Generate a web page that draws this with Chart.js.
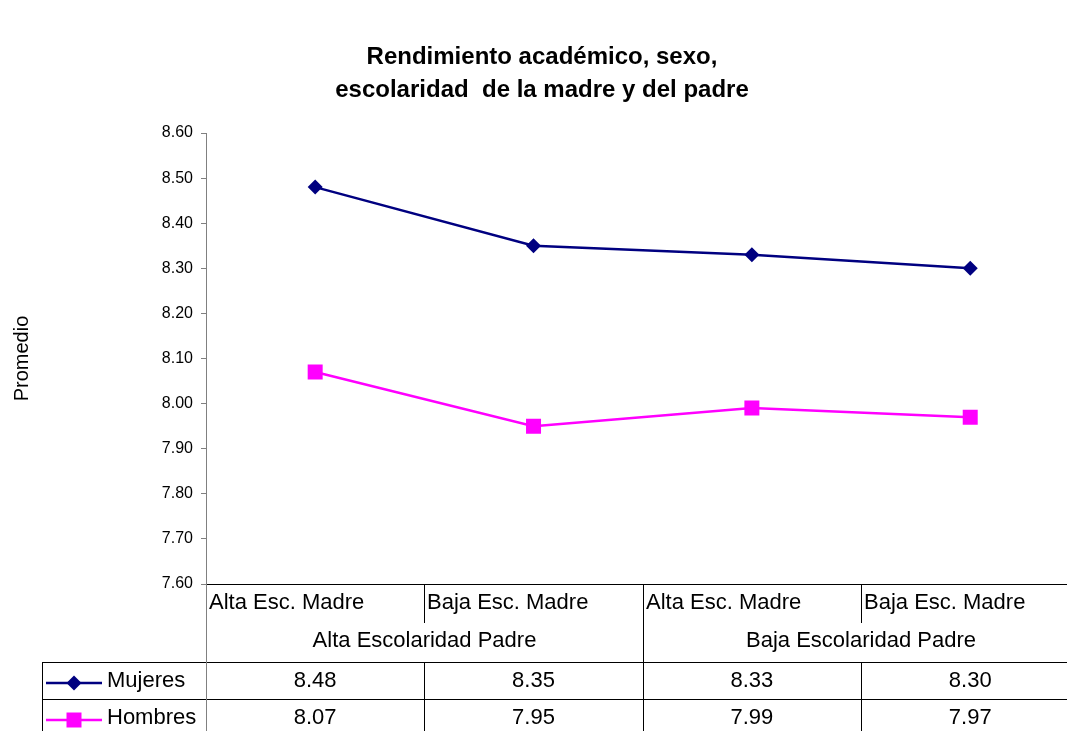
<!DOCTYPE html>
<html lang="es">
<head>
<meta charset="utf-8">
<title>Rendimiento académico</title>
<script src="https://cdn.jsdelivr.net/npm/chart.js@4/dist/chart.umd.min.js"></script>
<style>
    html, body { margin: 0; padding: 0; background: #fff; overflow: hidden; }
    #wrap { position: relative; width: 1090px; height: 731px; }
</style>
</head>
<body>
<div id="wrap"><canvas id="myChart"></canvas></div>
<script>
// Categories (madre) and their groups (padre)
const categories = ['Alta Esc. Madre', 'Baja Esc. Madre', 'Alta Esc. Madre', 'Baja Esc. Madre'];
const padreGroups = ['Alta Escolaridad Padre', 'Baja Escolaridad Padre'];

// Promedio per series
const mujeres = [8.48, 8.35, 8.33, 8.30];
const hombres = [8.07, 7.95, 7.99, 7.97];

// Y axis range
const yMin = 7.6;
const yMax = 8.6;
const yStep = 0.1;

const titleLines = ['Rendimiento académico, sexo,', 'escolaridad  de la madre y del padre'];
const FONT = 'Arial, "Liberation Sans", sans-serif';

// Draws the title and the data table under the plot
const tablePlugin = {
    id: 'dataTable',
    afterDraw(chart) {
        const ctx = chart.ctx;
        const area = chart.chartArea;
        const xs = chart.scales.x;
        const colW = (area.right - area.left) / categories.length;
        const edges = categories.map((c, i) => Math.round(xs.getPixelForValue(i) - colW / 2));
        edges.push(Math.round(area.right));

        ctx.save();
        ctx.fillStyle = '#000';

        // title
        ctx.font = 'bold 24px ' + FONT;
        ctx.textAlign = 'center';
        ctx.textBaseline = 'middle';
        ctx.fillText(titleLines[0], 542, 57);
        ctx.fillText(titleLines[1], 542, 90);

        const top = Math.round(area.bottom);
        const subBottom = 623;
        const rowTop = 662;
        const row2Top = 699;
        const bottom = chart.height;
        const tableLeft = 42;

        ctx.strokeStyle = '#000';
        ctx.lineWidth = 1;
        ctx.beginPath();
        // horizontal lines
        ctx.moveTo(edges[0], top + 0.5); ctx.lineTo(chart.width, top + 0.5);
        ctx.moveTo(tableLeft, rowTop + 0.5); ctx.lineTo(chart.width, rowTop + 0.5);
        ctx.moveTo(tableLeft, row2Top + 0.5); ctx.lineTo(chart.width, row2Top + 0.5);
        // left border of the series rows
        ctx.moveTo(tableLeft + 0.5, rowTop); ctx.lineTo(tableLeft + 0.5, bottom);
        // column lines
        edges.forEach((x, i) => {
            if (i === 0) return;
            if (i % 2 === 0) {
                ctx.moveTo(x + 0.5, top); ctx.lineTo(x + 0.5, bottom);
            } else {
                ctx.moveTo(x + 0.5, top); ctx.lineTo(x + 0.5, subBottom);
                ctx.moveTo(x + 0.5, rowTop); ctx.lineTo(x + 0.5, bottom);
            }
        });
        ctx.stroke();

        // axis line down through the table
        ctx.strokeStyle = '#808080';
        ctx.beginPath();
        ctx.moveTo(edges[0] + 0.5, top); ctx.lineTo(edges[0] + 0.5, bottom);
        ctx.stroke();

        // category labels
        ctx.font = '22px ' + FONT;
        ctx.textAlign = 'left';
        categories.forEach((c, i) => ctx.fillText(c, edges[i] + 3, 603));

        // padre groups span two columns each
        ctx.textAlign = 'center';
        padreGroups.forEach((g, i) => {
            ctx.fillText(g, (edges[i * 2] + edges[i * 2 + 2]) / 2, 641);
        });

        // series rows
        const rows = [
            { label: 'Mujeres', data: mujeres, y: 681, ds: chart.data.datasets[0] },
            { label: 'Hombres', data: hombres, y: 718, ds: chart.data.datasets[1] }
        ];
        rows.forEach(r => {
            ctx.textAlign = 'center';
            ctx.fillStyle = '#000';
            r.data.forEach((v, i) => ctx.fillText(v.toFixed(2), xs.getPixelForValue(i), r.y));

            // legend key
            ctx.strokeStyle = r.ds.borderColor;
            ctx.lineWidth = 2.5;
            ctx.beginPath();
            ctx.moveTo(46, r.y + 2); ctx.lineTo(102, r.y + 2);
            ctx.stroke();
            ctx.fillStyle = r.ds.borderColor;
            ctx.beginPath();
            if (r.ds.pointStyle === 'rectRot') {
                ctx.moveTo(74 - 7.5, r.y + 2); ctx.lineTo(74, r.y + 2 - 7.5);
                ctx.lineTo(74 + 7.5, r.y + 2); ctx.lineTo(74, r.y + 2 + 7.5);
                ctx.closePath();
            } else {
                ctx.rect(74 - 7.5, r.y + 2 - 7.5, 15, 15);
            }
            ctx.fill();

            ctx.fillStyle = '#000';
            ctx.textAlign = 'left';
            ctx.fillText(r.label, 107, r.y);
        });

        ctx.restore();
    }
};

function createChart() {
    const ctx = document.getElementById('myChart');
    new Chart(ctx, {
        type: 'line',
        data: {
            labels: categories,
            datasets: [{
                label: 'Mujeres',
                data: mujeres,
                borderColor: '#000080',
                backgroundColor: '#000080',
                borderWidth: 2.5,
                pointStyle: 'rectRot',
                pointRadius: 7.5,
                pointHoverRadius: 7.5,
                pointBorderWidth: 0,
                tension: 0
            }, {
                label: 'Hombres',
                data: hombres,
                borderColor: '#FF00FF',
                backgroundColor: '#FF00FF',
                borderWidth: 2.5,
                pointStyle: 'rect',
                pointRadius: 10.6,
                pointHoverRadius: 10.6,
                pointBorderWidth: 0,
                tension: 0
            }]
        },
        options: {
            responsive: true,
            maintainAspectRatio: false,
            animation: false,
            layout: { padding: { top: 133, right: 10, bottom: 0, left: 0 } },
            plugins: {
                legend: { display: false },
                title: { display: false },
                tooltip: { enabled: false }
            },
            scales: {
                x: {
                    type: 'category',
                    offset: true,
                    ticks: { display: false },
                    grid: { display: false },
                    border: { display: false },
                    afterFit(scale) { scale.height = 147; }
                },
                y: {
                    min: yMin,
                    max: yMax,
                    ticks: {
                        stepSize: yStep,
                        color: '#000',
                        padding: 8,
                        font: { family: FONT, size: 16 },
                        callback: v => v.toFixed(2)
                    },
                    grid: {
                        drawOnChartArea: false,
                        tickLength: 5,
                        color: '#808080'
                    },
                    border: { color: '#808080', width: 1 },
                    title: {
                        display: true,
                        text: 'Promedio',
                        color: '#000',
                        font: { family: FONT, size: 20 },
                        padding: { top: 10, bottom: 0 }
                    },
                    afterFit(scale) { scale.width = 206; }
                }
            }
        },
        plugins: [tablePlugin]
    });
}

document.addEventListener('DOMContentLoaded', function () {
    createChart();
});
</script>
</body>
</html>
